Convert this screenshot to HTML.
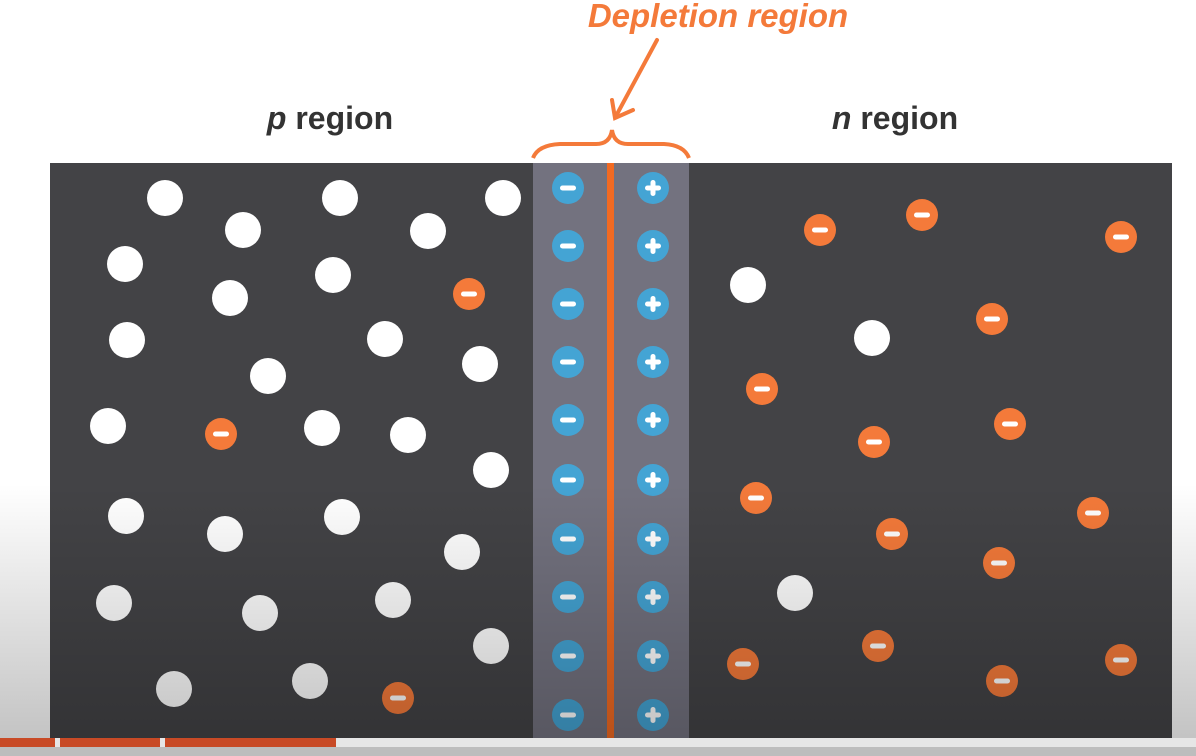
<!DOCTYPE html>
<html><head><meta charset="utf-8"><style>
html,body{margin:0;padding:0;background:#fff;}
svg{display:block;}
text{font-family:"Liberation Sans",sans-serif;}
</style></head><body>
<svg id="c" width="1196" height="756" viewBox="0 0 1196 756">
<defs>
<linearGradient id="shade" x1="0" y1="0" x2="0" y2="1">
<stop offset="0" stop-color="#000" stop-opacity="0"/>
<stop offset="0.64" stop-color="#000" stop-opacity="0"/>
<stop offset="1" stop-color="#000" stop-opacity="0.25"/>
</linearGradient>
</defs>
<text x="330" y="129" text-anchor="middle" font-size="32" font-weight="bold" fill="#333"><tspan font-style="italic">p</tspan> region</text>
<text x="895" y="129" text-anchor="middle" font-size="32" font-weight="bold" fill="#333"><tspan font-style="italic">n</tspan> region</text>
<text x="718" y="27" text-anchor="middle" font-size="33" font-weight="bold" font-style="italic" fill="#f47a3a">Depletion region</text>
<g stroke="#f47a3a" stroke-width="4" fill="none" stroke-linecap="round">
<line x1="657" y1="40" x2="616" y2="116"/>
<polyline points="612,100 615,118 633,110"/>
</g>
<path d="M533,158 Q538,145 560,144 L596,144 Q610,144 612,130 Q614,144 628,144 L664,144 Q684,145 689,158" stroke="#f47a3a" stroke-width="4" fill="none"/>
<rect x="50" y="163" width="1122" height="575" fill="#434346"/>
<rect x="533" y="163" width="156" height="575" fill="#73727f"/>
<rect x="607" y="163" width="7" height="575" fill="#f26a22"/>
<g id="marks"></g>
<rect x="0" y="0" width="1196" height="756" fill="url(#shade)"/>
<rect x="0" y="738" width="1196" height="18" fill="#bdbdbd"/>
<rect x="0" y="738" width="1196" height="9" fill="#e6e6e6"/>
<rect x="0" y="738" width="55" height="9" fill="#c84a26"/>
<rect x="60" y="738" width="100" height="9" fill="#c84a26"/>
<rect x="165" y="738" width="171" height="9" fill="#c84a26"/>
</svg>
<script>
const holes=[[165,198],[243,230],[340,198],[428,231],[503,198],[125,264],[230,298],[333,275],[127,340],[385,339],[480,364],[268,376],[108,426],[322,428],[408,435],[491,470],[126,516],[225,534],[342,517],[462,552],[114,603],[260,613],[393,600],[491,646],[174,689],[310,681],[748,285],[872,338],[795,593]];
const electrons=[[469,294],[221,434],[398,698],[820,230],[922,215],[1121,237],[992,319],[762,389],[1010,424],[874,442],[756,498],[892,534],[1093,513],[999,563],[743,664],[878,646],[1002,681],[1121,660]];
const ionRows=[188,246,304,362,420,480,539,597,656,715];
const negIonX=568, posIonX=653;
const g=document.getElementById('marks');
const NS='http://www.w3.org/2000/svg';
function mk(t,a){const e=document.createElementNS(NS,t);for(const k in a)e.setAttribute(k,a[k]);g.appendChild(e);return e;}
holes.forEach(p=>{const e=mk('circle',{cx:p[0],cy:p[1],r:18,fill:'#fff'});

});
electrons.forEach(p=>{const e=mk('circle',{cx:p[0],cy:p[1],r:16,fill:'#f47a3a'});


mk('rect',{x:p[0]-8,y:p[1]-2.5,width:16,height:5,rx:2.5,fill:'#fff'});});
ionRows.forEach(y=>{
const a=mk('circle',{cx:negIonX,cy:y,r:16,fill:'#44a4d4'});


mk('rect',{x:negIonX-8,y:y-2.5,width:16,height:5,rx:2.5,fill:'#fff'});
const b=mk('circle',{cx:posIonX,cy:y,r:16,fill:'#44a4d4'});


mk('rect',{x:posIonX-8,y:y-2.5,width:16,height:5,rx:2.5,fill:'#fff'});
mk('rect',{x:posIonX-2.5,y:y-8,width:5,height:16,rx:2.5,fill:'#fff'});
});
</script>
</body></html>
